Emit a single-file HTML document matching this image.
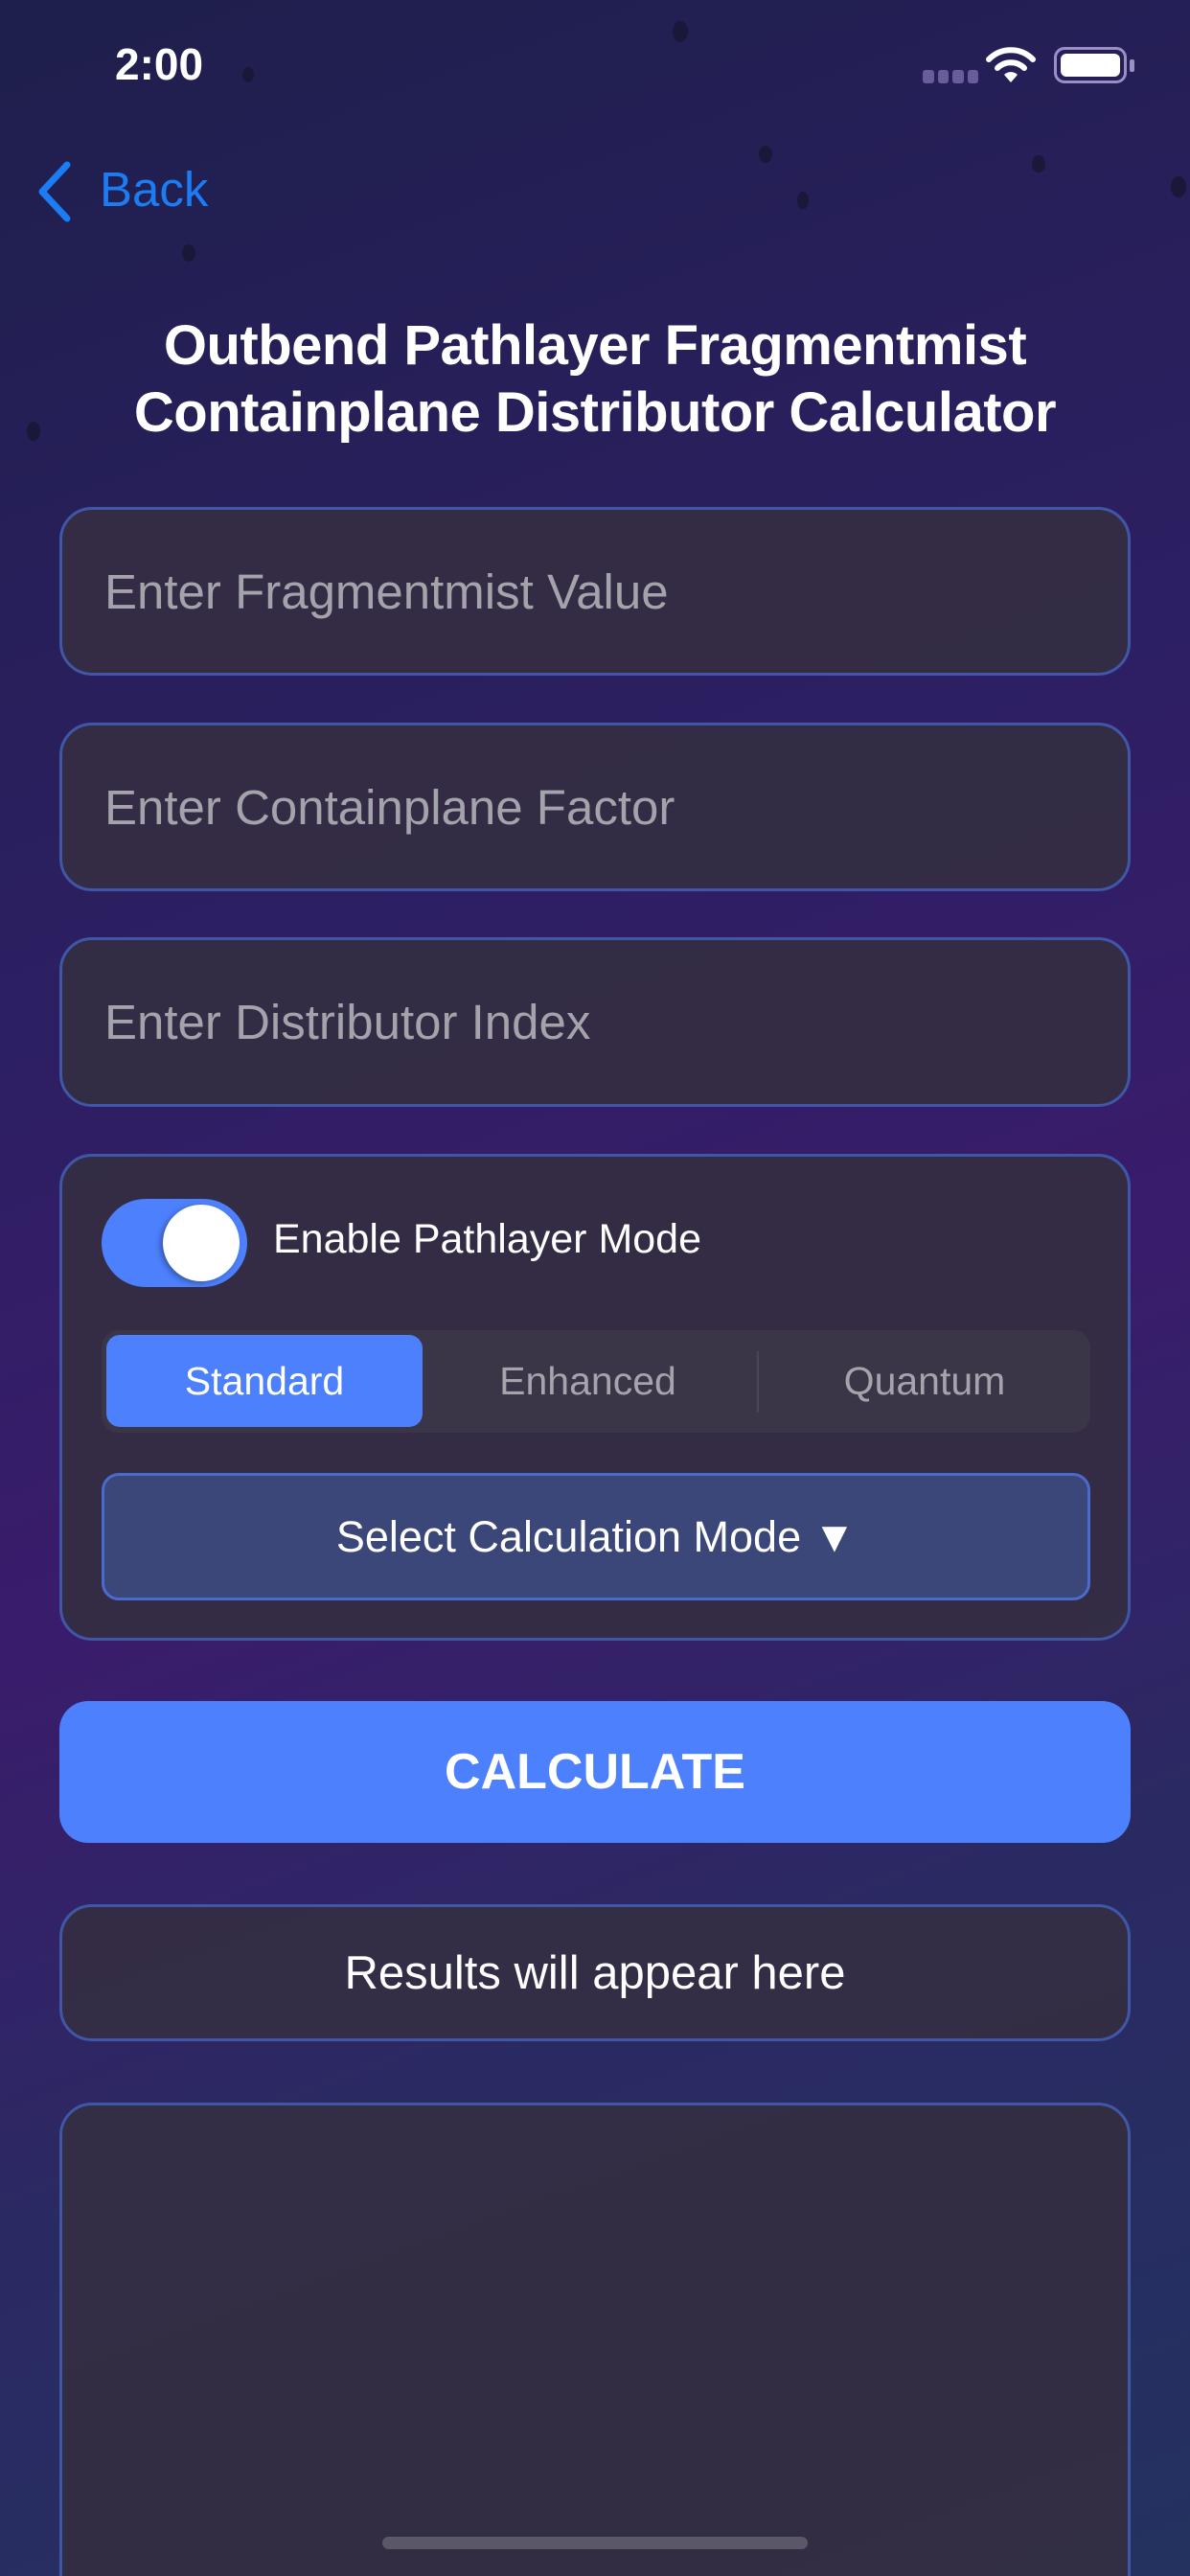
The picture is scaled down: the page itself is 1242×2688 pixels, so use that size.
<!DOCTYPE html>
<html style="background:#243260"><head><meta charset="utf-8"><style>
*{margin:0;padding:0;box-sizing:border-box}
html,body{width:1242px;height:2688px;overflow:hidden}
body{position:relative;font-family:"Liberation Sans",sans-serif;color:#fff}
#bg{position:absolute;left:0;top:0;width:1242px;height:2688px;overflow:hidden;
background:linear-gradient(160deg,#1e1f4c 0%,#2d1f63 35%,#3a1c6c 55%,#2a2a62 75%,#243260 100%)}
.abs{position:absolute}
.box{position:absolute;left:62px;width:1118px;background:rgba(52,46,66,0.92);border:3px solid #3f57a6;border-radius:34px}
.ph{position:absolute;left:44px;top:0;bottom:0;display:flex;align-items:center;font-size:51px;color:#a4a2ab}
.dot{position:absolute;border-radius:50%;background:#1a1838}
</style></head><body><div id="bg">
<div class="dot" style="left:702px;top:22px;width:16px;height:22px"></div>
<div class="dot" style="left:253px;top:70px;width:12px;height:16px"></div>
<div class="dot" style="left:792px;top:152px;width:14px;height:18px"></div>
<div class="dot" style="left:1077px;top:162px;width:14px;height:18px"></div>
<div class="dot" style="left:1222px;top:184px;width:16px;height:22px"></div>
<div class="dot" style="left:832px;top:200px;width:12px;height:18px"></div>
<div class="dot" style="left:190px;top:255px;width:14px;height:18px"></div>
<div class="dot" style="left:28px;top:440px;width:14px;height:20px"></div>

<div class="abs" style="left:120px;top:40px;font-size:46px;font-weight:bold">2:00</div>
<div class="abs" style="left:963px;top:73px;width:58px;height:14px;display:flex;gap:4px"><i style="flex:1;background:#6a5b9a;border-radius:3px"></i><i style="flex:1;background:#6a5b9a;border-radius:3px"></i><i style="flex:1;background:#6a5b9a;border-radius:3px"></i><i style="flex:1;background:#6a5b9a;border-radius:3px"></i></div>
<svg class="abs" style="left:1028px;top:48px" width="54" height="40" viewBox="0 0 54 40"><path d="M4 14 A32 32 0 0 1 50 14" stroke="#fff" stroke-width="6" fill="none" stroke-linecap="round"/><path d="M13 23 A20 20 0 0 1 41 23" stroke="#fff" stroke-width="6" fill="none" stroke-linecap="round"/><path d="M20 30 L27 38 L34 30 A10 10 0 0 0 20 30Z" fill="#fff"/></svg>
<div class="abs" style="left:1100px;top:49px;width:76px;height:38px;border:3px solid #9a8fc4;border-radius:11px;padding:4px"><div style="width:100%;height:100%;background:#fff;border-radius:6px"></div></div>
<div class="abs" style="left:1179px;top:62px;width:5px;height:13px;background:#9a8fc4;border-radius:2px"></div>

<svg class="abs" style="left:36px;top:168px" width="40" height="64" viewBox="0 0 40 64"><path d="M34 4 L8 32 L34 60" stroke="#1c7cf4" stroke-width="7" fill="none" stroke-linecap="round" stroke-linejoin="round"/></svg>
<div class="abs" style="left:104px;top:168px;font-size:51px;color:#1c7cf4">Back</div>

<div class="abs" style="left:0;width:1242px;top:326px;text-align:center;font-size:58px;font-weight:bold;line-height:70px;letter-spacing:-0.5px">Outbend Pathlayer Fragmentmist<br>Containplane Distributor Calculator</div>

<div class="box" style="top:529px;height:176px"><div class="ph">Enter Fragmentmist Value</div></div>
<div class="box" style="top:754px;height:176px"><div class="ph">Enter Containplane Factor</div></div>
<div class="box" style="top:978px;height:177px"><div class="ph">Enter Distributor Index</div></div>

<div class="box" style="top:1204px;height:508px">
 <div class="abs" style="left:41px;top:44px;width:152px;height:92px;background:#4d80fd;border-radius:46px"><div class="abs" style="left:64px;top:6px;width:80px;height:80px;border-radius:50%;background:#fff;box-shadow:-3px 2px 6px rgba(0,0,0,.3)"></div></div>
 <div class="abs" style="left:220px;top:62px;font-size:43px">Enable Pathlayer Mode</div>
 <div class="abs" style="left:41px;top:181px;width:1032px;height:107px;background:#3b3548;border-radius:18px">
  <div class="abs" style="left:5px;top:5px;width:330px;height:96px;background:#4d80fd;border-radius:14px;display:flex;align-items:center;justify-content:center;font-size:41px">Standard</div>
  <div class="abs" style="left:335px;top:0;width:345px;height:107px;display:flex;align-items:center;justify-content:center;font-size:41px;color:#a6a3ad">Enhanced</div>
  <div class="abs" style="left:684px;top:22px;width:2px;height:64px;background:#4b4558"></div>
  <div class="abs" style="left:686px;top:0;width:346px;height:107px;display:flex;align-items:center;justify-content:center;font-size:41px;color:#a6a3ad">Quantum</div>
 </div>
 <div class="abs" style="left:41px;top:330px;width:1032px;height:133px;background:#3b4779;border:3px solid #4a6bcc;border-radius:18px;display:flex;align-items:center;justify-content:center;font-size:45px">Select Calculation Mode ▼</div>
</div>

<div class="abs" style="left:62px;top:1775px;width:1118px;height:148px;background:#4d80fd;border-radius:30px;display:flex;align-items:center;justify-content:center;font-size:52px;font-weight:bold">CALCULATE</div>

<div class="box" style="top:1987px;height:143px;display:flex;align-items:center;justify-content:center;font-size:49px">Results will appear here</div>

<div class="box" style="top:2194px;height:560px"></div>
<div class="abs" style="left:399px;top:2647px;width:444px;height:13px;background:#5a5868;border-radius:7px"></div>
</div></body></html>
